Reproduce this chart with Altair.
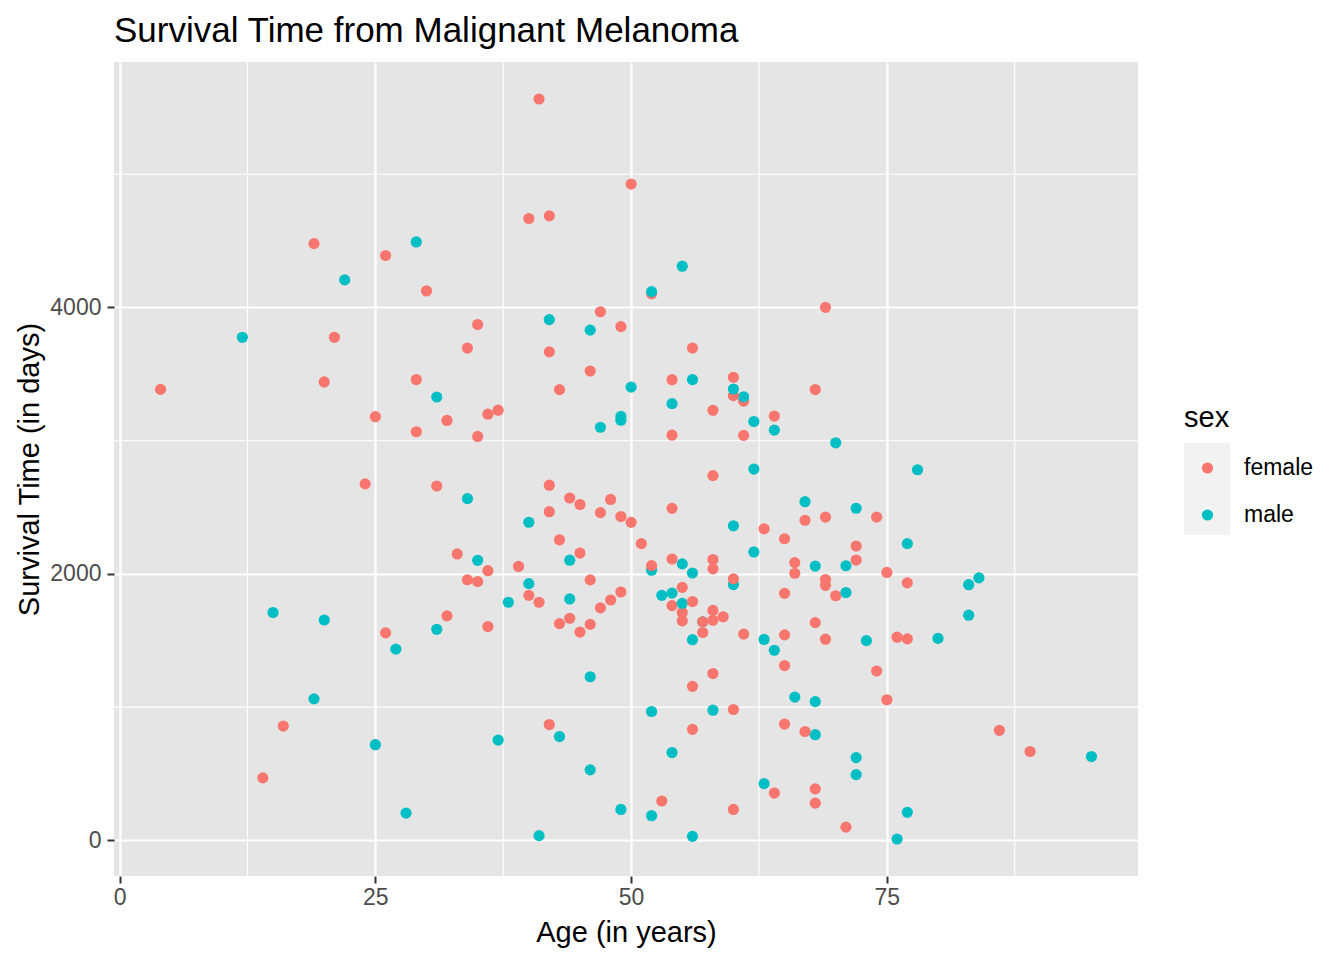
import altair as alt
import pandas as pd

# sex of each case, in the same order as ages/times (f = female, m = male)
sex_codes = ("mmmfmmmfmffffmfmmmmm" "fmmmmffffffmmfmfmmfm" "fffmmmmmffmffffffmff"
             "ffmfffmfffmfmfffmmff" "fmffmfmmfffmmmffffff" "mfmffmffmmfmfmmfffff"
             "mffmfffmfmfffffffmfm" "fmfffffmmmffffmmmfmf" "mffffmfmmffffmmfffmf"
             "ffffmfmffmfffmfmmffm" "ffff")

ages = [76, 56, 41, 71, 52, 28, 77, 60, 49, 68, 53, 64, 68, 63, 14, 72, 46, 72, 95, 54,
        89, 25, 37, 43, 68, 67, 86, 56, 16, 42, 65, 52, 58, 60, 68, 75, 19, 66, 56, 46,
        58, 74, 65, 64, 27, 73, 56, 63, 69, 77, 80, 76, 65, 61, 26, 57, 45, 31, 36, 46,
        43, 68, 57, 57, 55, 58, 20, 44, 59, 32, 83, 55, 15, 58, 47, 54, 55, 38, 41, 56,
        48, 44, 70, 40, 53, 65, 54, 71, 49, 55, 69, 83, 60, 40, 77, 35, 46, 34, 69, 60,
        84, 66, 56, 75, 36, 52, 58, 39, 68, 71, 52, 55, 66, 35, 44, 72, 58, 54, 33, 45,
        62, 72, 51, 77, 43, 65, 63, 60, 50, 40, 67, 69, 74, 49, 47, 42, 54, 72, 45, 67,
        48, 34, 44, 31, 42, 24, 58, 78, 62, 70, 35, 61, 54, 29, 64, 47, 62, 32, 49, 25,
        49, 64, 36, 58, 37, 54, 61, 31, 61, 60, 43, 68, 4, 60, 50, 20, 54, 29, 56, 60,
        46, 42, 34, 56, 12, 21, 46, 49, 35, 42, 47, 69, 52, 52, 30, 22, 55, 26, 19, 29,
        40, 42, 50, 41]

times = [10, 30, 35, 99, 185, 204, 210, 232, 232, 279, 295, 355, 386, 426, 469, 493, 529, 621, 629, 659,
         667, 718, 752, 779, 793, 817, 826, 833, 858, 869, 872, 967, 977, 982, 1041, 1055, 1062, 1075, 1156, 1228,
         1252, 1271, 1312, 1427, 1435, 1499, 1506, 1508, 1510, 1512, 1516, 1525, 1542, 1548, 1557, 1560, 1563, 1584, 1605, 1621,
         1627, 1634, 1641, 1641, 1648, 1652, 1654, 1667, 1678, 1685, 1690, 1710, 1710, 1726, 1745, 1762, 1779, 1787, 1787, 1793,
         1804, 1812, 1836, 1839, 1839, 1854, 1856, 1860, 1864, 1899, 1914, 1919, 1920, 1927, 1933, 1942, 1955, 1956, 1958, 1963,
         1970, 2005, 2007, 2011, 2024, 2028, 2038, 2056, 2059, 2061, 2062, 2075, 2085, 2102, 2103, 2104, 2108, 2112, 2150, 2156,
         2165, 2209, 2227, 2227, 2256, 2264, 2339, 2361, 2387, 2388, 2403, 2426, 2426, 2431, 2460, 2467, 2492, 2493, 2521, 2542,
         2559, 2565, 2570, 2660, 2666, 2676, 2738, 2782, 2787, 2984, 3032, 3040, 3042, 3067, 3079, 3101, 3144, 3152, 3154, 3180,
         3182, 3185, 3199, 3228, 3229, 3278, 3297, 3328, 3330, 3338, 3383, 3384, 3385, 3388, 3402, 3441, 3458, 3459, 3459, 3476,
         3523, 3667, 3695, 3695, 3776, 3776, 3830, 3856, 3872, 3909, 3968, 4001, 4103, 4119, 4124, 4207, 4310, 4390, 4479, 4492,
         4668, 4688, 4926, 5565]

sex_names = {"f": "female", "m": "male"}
sexes = [sex_names[c] for c in sex_codes]

minor_x = [12.5, 37.5, 62.5, 87.5]
minor_y = [1000, 3000, 5000]
major_x = [0, 25, 50, 75]
major_y = [0, 2000, 4000]

n = min(len(ages), len(times), len(sexes))
df = pd.DataFrame({"age": ages[:n], "time": times[:n], "sex": sexes[:n], "order": list(range(n))})

FONT = "Liberation Sans"
xscale = alt.Scale(domain=[-0.55, 99.55], nice=False, zero=False)
yscale = alt.Scale(domain=[-267.75, 5842.75], nice=False, zero=False)

minor_x_layer = alt.Chart(pd.DataFrame({"v": minor_x})).mark_rule(
    color="white", strokeWidth=1.1).encode(x=alt.X("v:Q", scale=xscale))
minor_y_layer = alt.Chart(pd.DataFrame({"v": minor_y})).mark_rule(
    color="white", strokeWidth=1.1).encode(y=alt.Y("v:Q", scale=yscale))

xaxis = alt.Axis(values=major_x, title="Age (in years)", grid=True, gridColor="white",
                 gridWidth=2.2, domain=False, tickColor="#333333", tickWidth=2, tickSize=7,
                 labelColor="#4D4D4D", labelFontSize=23, labelFont=FONT, labelPadding=3,
                 titleFont=FONT, titleFontSize=29, titleFontWeight="normal", titleColor="black",
                 titlePadding=9, format="d")
yaxis = alt.Axis(values=major_y, title="Survival Time (in days)", grid=True, gridColor="white",
                 gridWidth=2.2, domain=False, tickColor="#333333", tickWidth=2, tickSize=7,
                 labelColor="#4D4D4D", labelFontSize=23, labelFont=FONT, labelPadding=6,
                 titleFont=FONT, titleFontSize=29, titleFontWeight="normal", titleColor="black",
                 titlePadding=5, format="d")

LEG_X = 1070
LEG_Y = 342
ROW_H = 23

# grey key background legend (drawn under the colour legend)
bg_layer = alt.Chart(df).mark_square(opacity=0).encode(
    x=alt.X("age:Q", scale=xscale, axis=xaxis),
    y=alt.Y("time:Q", scale=yscale, axis=yaxis),
    fill=alt.Fill("sex:N", scale=alt.Scale(domain=["female", "male"], range=["#F2F2F2", "#F2F2F2"]),
                  legend=alt.Legend(orient="none", legendX=LEG_X, legendY=LEG_Y, title="sex",
                                    titleColor="black", titleFontSize=29, titleFont=FONT,
                                    titleFontWeight="normal", titlePadding=10, padding=0,
                                    labelExpr="''", labelColor="transparent",
                                    labelFontSize=23, labelFont=FONT, symbolType="square",
                                    symbolSize=2116, symbolOpacity=1, symbolStrokeWidth=0,
                                    rowPadding=0, zindex=0)),
)

points = alt.Chart(df).mark_circle(size=125, opacity=1).encode(
    x=alt.X("age:Q", scale=xscale, axis=xaxis),
    y=alt.Y("time:Q", scale=yscale, axis=yaxis),
    color=alt.Color("sex:N", scale=alt.Scale(domain=["female", "male"], range=["#F8766D", "#00BFC4"]),
                    legend=alt.Legend(orient="none", legendX=LEG_X, legendY=LEG_Y + 39 + (46 - ROW_H) / 2 + 2,
                                      title=None, padding=0, labelColor="black",
                                      labelFontSize=23, labelFont=FONT, symbolType="circle",
                                      symbolSize=125, symbolOpacity=1, symbolStrokeWidth=0,
                                      symbolOffset=12, rowPadding=46 - ROW_H, labelOffset=25,
                                      zindex=1)),
    order=alt.Order("order:Q"),
)

chart = alt.layer(minor_x_layer, minor_y_layer, bg_layer, points).resolve_scale(
    color="independent", fill="independent"
).properties(
    width=1024, height=814,
    title=alt.Title("Survival Time from Malignant Melanoma", anchor="start", fontSize=35,
                    font=FONT, fontWeight="normal", color="black", offset=12, frame="group"),
    padding={"left": 106, "top": 54, "right": 198, "bottom": 76},
    autosize=alt.AutoSizeParams(type="none"),
).configure_view(fill="#E5E5E5", stroke=None)

chart.save("out.html", embed_options={"renderer": "svg", "actions": False})
